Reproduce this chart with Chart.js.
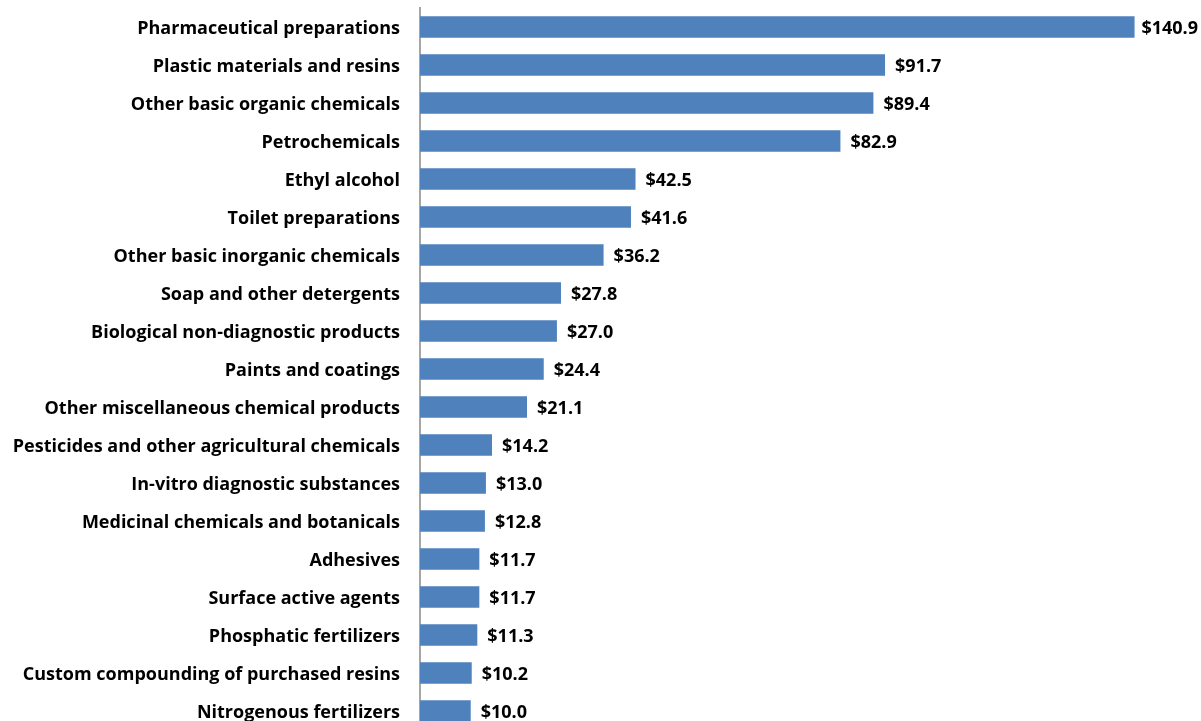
<!DOCTYPE html>
<html>
<head>
<meta charset="utf-8">
<script src="https://cdn.jsdelivr.net/npm/chart.js@4.4.1/dist/chart.umd.min.js"></script>
<style>
  html, body { margin: 0; padding: 0; background: #fff; overflow: hidden; }
  #wrap { width: 1201px; height: 730px; }
</style>
</head>
<body>
<div id="wrap"><canvas id="chemChart"></canvas></div>
<script>
const categories = [
    'Pharmaceutical preparations',
    'Plastic materials and resins',
    'Other basic organic chemicals',
    'Petrochemicals',
    'Ethyl alcohol',
    'Toilet preparations',
    'Other basic inorganic chemicals',
    'Soap and other detergents',
    'Biological non-diagnostic products',
    'Paints and coatings',
    'Other miscellaneous chemical products',
    'Pesticides and other agricultural chemicals',
    'In-vitro diagnostic substances',
    'Medicinal chemicals and botanicals',
    'Adhesives',
    'Surface active agents',
    'Phosphatic fertilizers',
    'Custom compounding of purchased resins',
    'Nitrogenous fertilizers'
];
const values = [140.9, 91.7, 89.4, 82.9, 42.5, 41.6, 36.2, 27.8, 27.0, 24.4, 21.1, 14.2, 13.0, 12.8, 11.7, 11.7, 11.3, 10.2, 10.0];

const FONT = '"Open Sans", Lato, sans-serif';

// valeurs "$xx.x" a droite de chaque barre
const valueLabelPlugin = {
    id: 'valueLabel',
    afterDatasetsDraw(chart) {
        const { ctx, chartArea } = chart;
        const meta = chart.getDatasetMeta(0);
        ctx.save();
        ctx.font = 'bold 18px ' + FONT;
        ctx.fillStyle = '#000';
        ctx.textBaseline = 'middle';
        ctx.textAlign = 'left';
        meta.data.forEach((bar, i) => {
            const label = '$' + values[i].toFixed(1);
            const w = ctx.measureText(label).width;
            let x = bar.x + 10;
            // la derniere etiquette est collee au bord droit
            if (x + w > chartArea.right - 3) x = chartArea.right - 3 - w;
            ctx.fillText(label, x, bar.y + 2);
        });
        ctx.restore();
    }
};

new Chart(document.getElementById('chemChart').getContext('2d'), {
    type: 'bar',
    data: {
        labels: categories,
        datasets: [{
            data: values,
            backgroundColor: '#4F81BD',
            borderWidth: 0,
            barPercentage: 0.56,
            categoryPercentage: 1.0
        }]
    },
    options: {
        indexAxis: 'y',
        responsive: true,
        maintainAspectRatio: false,
        animation: false,
        layout: { padding: { top: 8, right: 0, bottom: 0, left: 0 } },
        plugins: {
            legend: { display: false },
            tooltip: { enabled: false }
        },
        scales: {
            x: {
                display: false,
                min: 0,
                max: 154
            },
            y: {
                afterFit: scale => {
                    scale.width = 420;
                    scale.paddingTop = 0;
                    scale.paddingBottom = 0;
                },
                grid: { display: false, drawTicks: false },
                border: { display: true, color: '#A6A6A6', width: 2 },
                ticks: {
                    color: '#000',
                    padding: 20,
                    labelOffset: 2,
                    font: { family: FONT, size: 18, weight: 'bold' }
                }
            }
        }
    },
    plugins: [valueLabelPlugin]
});
</script>
</body>
</html>
